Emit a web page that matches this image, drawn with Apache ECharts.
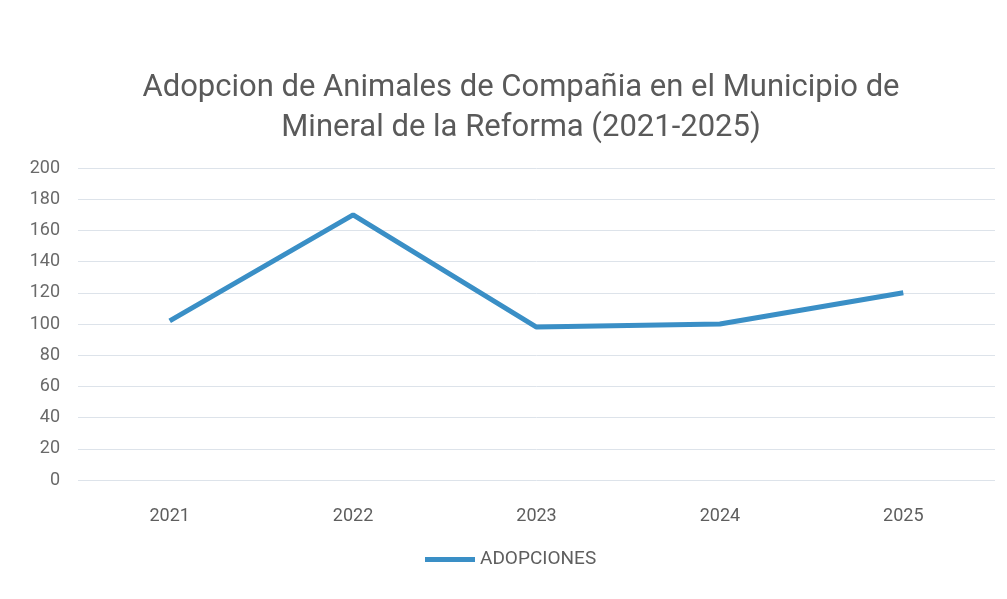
<!DOCTYPE html>
<html>
<head>
<meta charset="utf-8">
<script src="https://cdn.jsdelivr.net/npm/echarts@6/dist/echarts.min.js"></script>
<style>html,body{margin:0;padding:0;background:#fff;}#c{width:1007px;height:599px;}</style>
</head>
<body>
<div id="c"></div>
<script>
const years = ['2021', '2022', '2023', '2024', '2025'];
const adopciones = [102, 170, 98, 100, 120];
const yTicks = [0, 20, 40, 60, 80, 100, 120, 140, 160, 180, 200];
const seriesName = 'ADOPCIONES';
const titleText = 'Adopcion de Animales de Compañia en el Municipio de\nMineral de la Reforma (2021-2025)';

const chart = echarts.init(document.getElementById('c'));
chart.setOption({
  backgroundColor: '#ffffff',
  title: {
    text: titleText,
    left: 516,
    top: 63,
    textAlign: 'center',
    textStyle: {
      fontFamily: 'Roboto, sans-serif',
      fontSize: 31,
      fontWeight: 'normal',
      color: '#5a5a5a',
      lineHeight: 40
    }
  },
  legend: {
    data: [seriesName],
    bottom: 25,
    left: 420,
    itemWidth: 50,
    itemHeight: 5,
    itemGap: 4,
    textStyle: { fontFamily: 'Roboto, sans-serif', fontSize: 19, color: '#5e5e5e' },
    icon: 'rect'
  },
  grid: { left: 78, right: 12, top: 168, bottom: 119 },
  xAxis: {
    type: 'category',
    data: years,
    boundaryGap: true,
    axisLine: { show: false },
    axisTick: { show: false },
    axisLabel: { margin: 27, fontSize: 18, color: '#5e5e5e', fontFamily: 'Roboto, sans-serif' }
  },
  yAxis: {
    type: 'value',
    min: yTicks[0],
    max: yTicks[yTicks.length - 1],
    interval: yTicks[1] - yTicks[0],
    axisLine: { show: false },
    axisTick: { show: false },
    axisLabel: { margin: 18, fontSize: 18, color: '#6a6a6a', fontFamily: 'Roboto, sans-serif' },
    splitLine: { lineStyle: { color: '#dde3ea', width: 1 } }
  },
  series: [{
    name: seriesName,
    type: 'line',
    data: adopciones,
    symbol: 'none',
    lineStyle: { color: '#3a8fc6', width: 5 },
    itemStyle: { color: '#3a8fc6' }
  }]
});
</script>
</body>
</html>
